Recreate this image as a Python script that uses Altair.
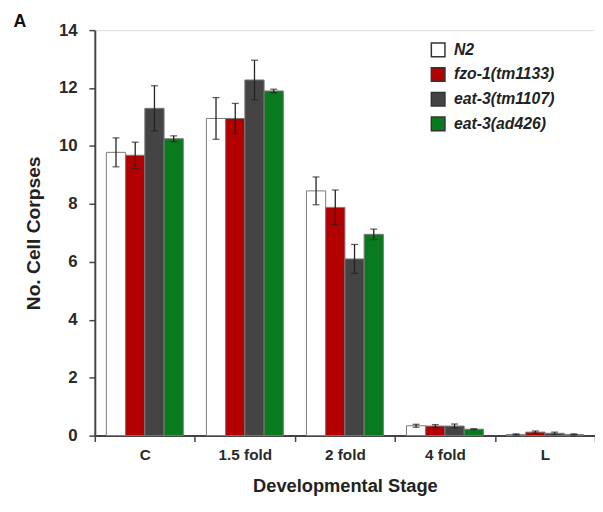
import altair as alt
import pandas as pd

stages = ["C", "1.5 fold", "2 fold", "4 fold", "L"]
strains = ["N2", "fzo-1(tm1133)", "eat-3(tm1107)", "eat-3(ad426)"]
colors = ["#ffffff", "#b30000", "#444444", "#0a7a1e"]

n2 = [9.78, 10.95, 8.45, 0.34, 0.04]
fzo = [9.68, 10.95, 7.88, 0.33, 0.12]
tm1107 = [11.3, 12.28, 6.1, 0.33, 0.08]
ad426 = [10.25, 11.9, 6.95, 0.22, 0.04]

n2_err = [0.5, 0.72, 0.48, 0.05, 0.02]
fzo_err = [0.45, 0.52, 0.6, 0.05, 0.04]
tm1107_err = [0.78, 0.68, 0.5, 0.07, 0.04]
ad426_err = [0.1, 0.06, 0.18, 0.02, 0.02]

rows = []
for s, vals, errs in zip(strains, [n2, fzo, tm1107, ad426], [n2_err, fzo_err, tm1107_err, ad426_err]):
    for st, v, e in zip(stages, vals, errs):
        rows.append({"stage": st, "strain": s, "value": v, "lo": v - e, "hi": v + e})
df = pd.DataFrame(rows)

x = alt.X("stage:N", sort=stages,
          scale=alt.Scale(paddingInner=0, paddingOuter=0),
          axis=alt.Axis(title="Developmental Stage", labelAngle=0, tickBand="extent",
                        labelFontSize=15.5, labelFontWeight="bold", titleFontSize=18.5, titleFontWeight="bold",
                        labelColor="#2a2a2a", titleColor="#222", labelPadding=6, titlePadding=14,
                        domainColor="#444", domainWidth=2, tickColor="#444", tickSize=6, tickWidth=1.5))
xo = alt.XOffset("strain:N", sort=strains, scale=alt.Scale(paddingInner=0, paddingOuter=0.6))

bars = alt.Chart(df).mark_bar(stroke="#7a7a7a", strokeWidth=1).encode(
    x=x,
    xOffset=xo,
    y=alt.Y("value:Q", scale=alt.Scale(domain=[0, 14]),
            axis=alt.Axis(title="No. Cell Corpses", values=[0, 2, 4, 6, 8, 10, 12, 14], grid=False,
                          labelFontSize=17, labelFontWeight="bold", titleFontSize=19.5, titleFontWeight="bold",
                          labelColor="#2a2a2a", titleColor="#222", labelPadding=12, titlePadding=15,
                          domainColor="#444", domainWidth=2, tickColor="#444", tickSize=6, tickWidth=1.5)),
    fill=alt.Fill("strain:N", sort=strains,
                  scale=alt.Scale(domain=strains, range=colors),
                  legend=alt.Legend(title=None, orient="none", legendX=340, legendY=12,
                                    labelFontSize=16, labelFontStyle="italic", labelFontWeight="bold",
                                    labelColor="#222", symbolType="square", symbolSize=190,
                                    symbolStrokeColor="#333", symbolStrokeWidth=1.5,
                                    rowPadding=5, labelOffset=8)),
)

rules = alt.Chart(df).mark_rule(color="#222", strokeWidth=1.3).encode(
    x=x, xOffset=xo, y="lo:Q", y2="hi:Q"
)
caps_hi = alt.Chart(df).mark_tick(color="#222", thickness=1.3, size=7).encode(
    x=x, xOffset=xo, y="hi:Q"
)
caps_lo = alt.Chart(df).mark_tick(color="#222", thickness=1.3, size=7).encode(
    x=x, xOffset=xo, y="lo:Q"
)

letter = alt.Chart(pd.DataFrame({"t": ["A"]})).mark_text(
    fontSize=18, fontWeight="bold", color="#111", align="center", baseline="middle"
).encode(text="t:N", x=alt.value(-76), y=alt.value(-8))

chart = alt.layer(bars, rules, caps_hi, caps_lo, letter).properties(
    width=507, height=411,
    autosize=alt.AutoSizeParams(type="none"),
    padding={"left": 88, "top": 19, "right": 0, "bottom": 74},
).configure_view(stroke=None).configure(font="Liberation Sans")

chart.save("out.html", embed_options={"renderer": "svg", "actions": False})
